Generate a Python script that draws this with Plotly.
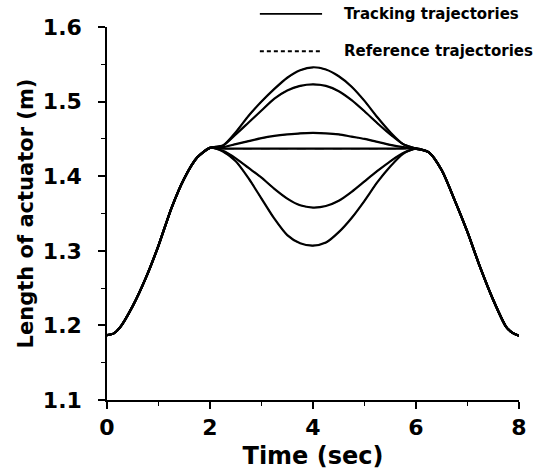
import plotly.graph_objects as go

# ---- data ----
t_rise = [0.0, 0.125, 0.25, 0.5, 0.75, 1.0, 1.25, 1.5, 1.75, 2.0]
len_rise = [1.187, 1.189, 1.197, 1.226, 1.263, 1.307, 1.357, 1.397, 1.425, 1.438]

t_mid = [2.25, 2.5, 2.75, 3.0, 3.25, 3.5, 3.75, 4.0, 4.25, 4.5, 4.75, 5.0, 5.25, 5.5, 5.75]
len_mid_a = [1.441, 1.459, 1.481, 1.500, 1.517, 1.532, 1.542, 1.546, 1.543, 1.534, 1.520, 1.501, 1.479, 1.459, 1.443]
len_mid_b = [1.441, 1.456, 1.472, 1.488, 1.504, 1.515, 1.521, 1.523, 1.521, 1.514, 1.502, 1.487, 1.471, 1.456, 1.443]
len_mid_c = [1.439, 1.443, 1.447, 1.451, 1.454, 1.456, 1.4575, 1.458, 1.4575, 1.456, 1.453, 1.450, 1.446, 1.442, 1.439]
len_mid_d = [1.437, 1.437, 1.437, 1.437, 1.437, 1.437, 1.437, 1.437, 1.437, 1.437, 1.437, 1.437, 1.437, 1.437, 1.437]
len_mid_e = [1.434, 1.424, 1.411, 1.398, 1.383, 1.370, 1.361, 1.358, 1.360, 1.367, 1.379, 1.393, 1.407, 1.420, 1.431]
len_mid_f = [1.433, 1.420, 1.397, 1.370, 1.343, 1.321, 1.310, 1.307, 1.311, 1.325, 1.344, 1.367, 1.392, 1.413, 1.430]

t_fall = [6.0, 6.25, 6.5, 6.75, 7.0, 7.25, 7.5, 7.75, 7.875, 8.0]
len_fall = [1.437, 1.432, 1.408, 1.368, 1.325, 1.277, 1.234, 1.198, 1.190, 1.186]

mid_sets = [len_mid_a, len_mid_b, len_mid_c, len_mid_d, len_mid_e, len_mid_f]

x_ticks = [0, 2, 4, 6, 8]
y_ticks = [1.1, 1.2, 1.3, 1.4, 1.5, 1.6]
legend_labels = ["Tracking trajectories", "Reference trajectories"]

FONT = "DejaVu Sans"

fig = go.Figure()
t_all = t_rise + t_mid + t_fall
# reference trajectories (dashed, underneath) then tracking trajectories (solid)
for dash, width in [("dash", 1.2), ("solid", 2.2)]:
    for mid in mid_sets:
        fig.add_trace(go.Scatter(
            x=t_all, y=len_rise + mid + len_fall,
            mode="lines",
            line=dict(color="black", width=width, dash=dash, shape="spline", smoothing=0.7),
            showlegend=False, hoverinfo="skip",
        ))

# legend drawn as layout decoration
for i, (lab, dash) in enumerate(zip(legend_labels, ["solid", "4px,3px"])):
    yp = 1.035 - i * 0.10
    fig.add_shape(type="line", xref="paper", yref="paper",
                  x0=0.371, x1=0.522, y0=yp, y1=yp,
                  line=dict(color="black", width=1.8, dash=dash))
    fig.add_annotation(xref="paper", yref="paper", x=0.570, y=yp,
                       xanchor="left", yanchor="middle", showarrow=False,
                       text=lab, font=dict(family=FONT, size=15, color="black", weight="bold"))

axis_common = dict(
    showline=True, linecolor="black", linewidth=1.5,
    ticks="outside", ticklen=7, tickwidth=1.5, tickcolor="black",
    showgrid=False, zeroline=False, mirror=False, automargin=False,
    tickfont=dict(family=FONT, size=22, color="black", weight="bold"),
)

fig.update_layout(
    width=550, height=470,
    margin=dict(l=107, r=31, t=27, b=70),
    paper_bgcolor="white", plot_bgcolor="white",
    xaxis=dict(range=[0, 8], tickvals=x_ticks, ticktext=[str(v) for v in x_ticks],
               minor=dict(ticks="outside", ticklen=4, dtick=1, tickcolor="black", tickwidth=1.2),
               title=dict(text="Time (sec)", font=dict(family=FONT, size=24, color="black", weight="bold"),
                          standoff=12),
               **axis_common),
    yaxis=dict(range=[1.1, 1.6], tickvals=y_ticks, ticktext=[f"{v:.1f}" for v in y_ticks],
               minor=dict(ticks="outside", ticklen=4, dtick=0.05, tickcolor="black", tickwidth=1.2),
               title=dict(text="Length of actuator (m)", font=dict(family=FONT, size=21, color="black", weight="bold"),
                          standoff=4),
               ticklabelstandoff=12,
               **axis_common),
)

fig.write_html("out.html")
